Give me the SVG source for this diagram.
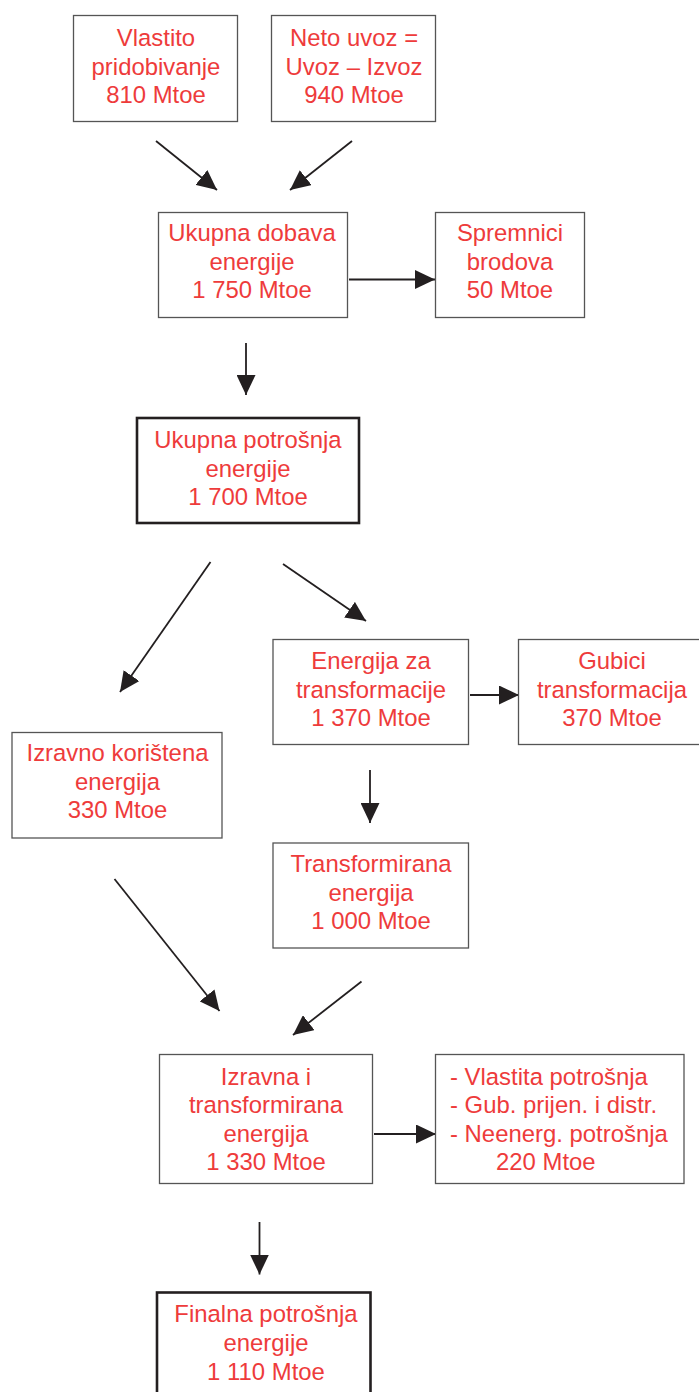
<svg xmlns="http://www.w3.org/2000/svg" width="699" height="1392" viewBox="0 0 699 1392">
<style>
.box{fill:#fff;stroke:#555;stroke-width:1.3}
.bold{fill:#fff;stroke:#231f20;stroke-width:2.6}
.t{font-family:"Liberation Sans",Arial,sans-serif;font-size:23.9px;fill:#ee3b3b;text-anchor:middle}
.l{text-anchor:start}
.c{stroke:#231f20;stroke-width:1.8;fill:none;marker-end:url(#ah)}
</style>
<defs>
<marker id="ah" markerUnits="userSpaceOnUse" markerWidth="20" markerHeight="19" refX="20" refY="9.5" orient="auto" viewBox="0 0 20 19">
<path d="M0,0 L20,9.5 L0,19 z" fill="#231f20"/>
</marker>
</defs>
<rect width="699" height="1392" fill="#fff"/>
<g id="connectors">
<line class="c" x1="156" y1="141" x2="217" y2="190"/>
<line class="c" x1="352" y1="141" x2="290" y2="190"/>
<line class="c" x1="349" y1="279.5" x2="435" y2="279.5"/>
<line class="c" x1="246" y1="343" x2="246" y2="395"/>
<line class="c" x1="210.5" y1="562" x2="120" y2="692"/>
<line class="c" x1="283" y1="564" x2="366" y2="621"/>
<line class="c" x1="470" y1="695" x2="519" y2="695"/>
<line class="c" x1="370" y1="770" x2="370" y2="823"/>
<line class="c" x1="114.5" y1="879" x2="219.5" y2="1011"/>
<line class="c" x1="361.5" y1="981.5" x2="293" y2="1035"/>
<line class="c" x1="374" y1="1134" x2="436" y2="1134"/>
<line class="c" x1="259.5" y1="1222" x2="259.5" y2="1274.5"/>
</g>
<g id="vlastito">
<rect class="box" x="73.5" y="15.5" width="164" height="106"/>
<text class="t" x="156" y="46">Vlastito</text>
<text class="t" x="156" y="74.5">pridobivanje</text>
<text class="t" x="156" y="103">810 Mtoe</text>
</g>
<g id="neto-uvoz">
<rect class="box" x="271.5" y="15.5" width="164" height="106"/>
<text class="t" x="354" y="46">Neto uvoz =</text>
<text class="t" x="354" y="74.5">Uvoz – Izvoz</text>
<text class="t" x="354" y="103">940 Mtoe</text>
</g>
<g id="ukupna-dobava">
<rect class="box" x="158.5" y="212.5" width="189" height="105"/>
<text class="t" x="252" y="241">Ukupna dobava</text>
<text class="t" x="252" y="269.5">energije</text>
<text class="t" x="252" y="298">1 750 Mtoe</text>
</g>
<g id="spremnici">
<rect class="box" x="435.5" y="212.5" width="149" height="105"/>
<text class="t" x="510" y="241">Spremnici</text>
<text class="t" x="510" y="269.5">brodova</text>
<text class="t" x="510" y="298">50 Mtoe</text>
</g>
<g id="ukupna-potrosnja">
<rect class="bold" x="137" y="418" width="222" height="105"/>
<text class="t" x="248" y="447.5">Ukupna potrošnja</text>
<text class="t" x="248" y="476.5">energije</text>
<text class="t" x="248" y="505">1 700 Mtoe</text>
</g>
<g id="energija-za-transformacije">
<rect class="box" x="273" y="639.5" width="195.5" height="105"/>
<text class="t" x="371" y="669">Energija za</text>
<text class="t" x="371" y="697.5">transformacije</text>
<text class="t" x="371" y="726">1 370 Mtoe</text>
</g>
<g id="gubici-transformacija">
<rect class="box" x="518.5" y="639.5" width="190" height="105"/>
<text class="t" x="612" y="669">Gubici</text>
<text class="t" x="612" y="697.5">transformacija</text>
<text class="t" x="612" y="726">370 Mtoe</text>
</g>
<g id="izravno-koristena">
<rect class="box" x="12" y="732.5" width="210" height="105.5"/>
<text class="t" x="117.5" y="761">Izravno korištena</text>
<text class="t" x="117.5" y="790">energija</text>
<text class="t" x="117.5" y="818">330 Mtoe</text>
</g>
<g id="transformirana-energija">
<rect class="box" x="273" y="843" width="195.5" height="105"/>
<text class="t" x="371" y="872">Transformirana</text>
<text class="t" x="371" y="900.5">energija</text>
<text class="t" x="371" y="929">1 000 Mtoe</text>
</g>
<g id="izravna-i-transformirana">
<rect class="box" x="159.5" y="1054.5" width="213" height="129"/>
<text class="t" x="266" y="1084.5">Izravna i</text>
<text class="t" x="266" y="1113">transformirana</text>
<text class="t" x="266" y="1141.5">energija</text>
<text class="t" x="266" y="1170">1 330 Mtoe</text>
</g>
<g id="gubici-ostalo">
<rect class="box" x="435.5" y="1054.5" width="248.5" height="129"/>
<text class="t l" x="450" y="1084.5">- Vlastita potrošnja</text>
<text class="t l" x="450" y="1113">- Gub. prijen. i distr.</text>
<text class="t l" x="450" y="1141.5">- Neenerg. potrošnja</text>
<text class="t l" x="496" y="1170">220 Mtoe</text>
</g>
<g id="finalna-potrosnja">
<rect class="bold" x="157" y="1292.5" width="213.5" height="120"/>
<text class="t" x="266" y="1322">Finalna potrošnja</text>
<text class="t" x="266" y="1351">energije</text>
<text class="t" x="266" y="1380">1 110 Mtoe</text>
</g>
</svg>
